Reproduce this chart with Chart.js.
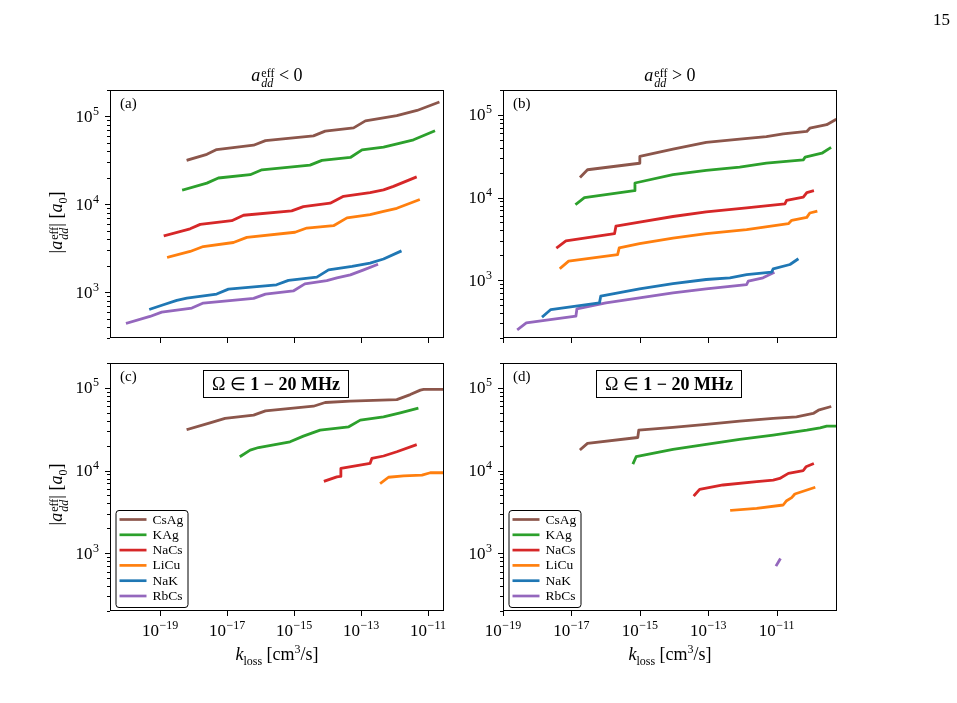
<!DOCTYPE html>
<html>
<head>
<meta charset="utf-8">
<script src="https://cdn.jsdelivr.net/npm/chart.js@4.4.0/dist/chart.umd.min.js"></script>
<style>
  html, body { margin: 0; padding: 0; background: #fff; }
  #page { position: relative; width: 957px; height: 703px; overflow: hidden; font-family: 'Liberation Serif', serif; color: #000; }
  canvas { position: absolute; left: 0; top: 0; }
  .txt { position: absolute; white-space: nowrap; font-size: 18px; line-height: 20px; text-align: center; }
  .ss { display: inline-flex; flex-direction: column; font-size: 12px; line-height: 10px; position: relative; top: -4px; margin-left: 1px; text-align: left; }
  .sub { font-size: 12px; position: relative; top: 5px; }
  .sup { font-size: 12px; position: relative; top: -7px; }
  .ylab { width: 140px; transform: rotate(-90deg); }
</style>
</head>
<body>
<div id="page">
  <canvas id="pa" width="957" height="703"></canvas>
  <canvas id="pb" width="957" height="703"></canvas>
  <canvas id="pc" width="957" height="703"></canvas>
  <canvas id="pd" width="957" height="703"></canvas>

  <div class="txt" style="right:7px; top:10px; font-size:17px;">15</div>

  <div class="txt" style="left:110px; width:334px; top:65px;"><i>a</i><span class="ss"><span>eff</span><i>dd</i></span> &lt; 0</div>
  <div class="txt" style="left:503px; width:334px; top:65px;"><i>a</i><span class="ss"><span>eff</span><i>dd</i></span> &gt; 0</div>

  <div class="txt ylab" style="left:-11px; top:209px;">|<i>a</i><span class="ss"><span>eff</span><i>dd</i></span>| [<i>a</i><span class="sub">0</span>]</div>
  <div class="txt ylab" style="left:-11px; top:481px;">|<i>a</i><span class="ss"><span>eff</span><i>dd</i></span>| [<i>a</i><span class="sub">0</span>]</div>

  <div class="txt" style="left:110px; width:334px; top:644px;"><i>k</i><span class="sub">loss</span> [cm<span class="sup">3</span>/s]</div>
  <div class="txt" style="left:503px; width:334px; top:644px;"><i>k</i><span class="sub">loss</span> [cm<span class="sup">3</span>/s]</div>
</div>
<script>
const W = 957, H = 703;
const species = ['CsAg', 'KAg', 'NaCs', 'LiCu', 'NaK', 'RbCs'];
const colors = ['#8c564b', '#2ca02c', '#d62728', '#ff7f0e', '#1f77b4', '#9467bd'];

// tick labels (powers of ten)
const xTickExp = [-19, -17, -15, -13, -11];
const yTickExp = [3, 4, 5];

// (a) a_dd^eff < 0   [k_loss (cm^3/s), |a_dd^eff| (a0)]
const csAgA = [[6.8e-19, 3.2e4], [2.5e-18, 3.7e4], [4.9e-18, 4.2e4], [6.2e-17, 4.7e4], [1.4e-16, 5.3e4], [3.8e-15, 6.0e4], [8.5e-15, 6.8e4], [6.0e-14, 7.4e4], [1.35e-13, 8.9e4], [1.17e-12, 1.02e5], [4.7e-12, 1.17e5], [2.0e-11, 1.44e5]];
const kAgA = [[5.0e-19, 1.46e4], [2.5e-18, 1.74e4], [5.5e-18, 1.99e4], [4.9e-17, 2.17e4], [1.1e-16, 2.47e4], [3.0e-15, 2.79e4], [6.8e-15, 3.16e4], [4.8e-14, 3.41e4], [1.07e-13, 4.17e4], [4.7e-13, 4.47e4], [1.48e-12, 4.97e4], [3.7e-12, 5.42e4], [1.48e-11, 6.76e4]];
const naCsA = [[1.41e-19, 4.4e3], [7.9e-19, 5.25e3], [1.58e-18, 5.9e3], [1.38e-17, 6.5e3], [3.1e-17, 7.5e3], [8.5e-16, 8.4e3], [1.9e-15, 9.4e3], [1.2e-14, 1.03e4], [3.0e-14, 1.23e4], [1.86e-13, 1.36e4], [4.7e-13, 1.46e4], [9.3e-13, 1.6e4], [4.2e-12, 2.02e4]];
const liCuA = [[1.78e-19, 2.5e3], [7.9e-19, 2.9e3], [1.95e-18, 3.3e3], [1.55e-17, 3.67e3], [3.9e-17, 4.2e3], [1.07e-15, 4.8e3], [2.4e-15, 5.36e3], [1.51e-14, 5.7e3], [3.8e-14, 7.0e3], [1.86e-13, 7.6e3], [4.7e-13, 8.3e3], [1.17e-12, 9.0e3], [5.2e-12, 1.12e4]];
const naKA = [[5.2e-20, 641], [1.26e-19, 718], [3.16e-19, 804], [6.3e-19, 855], [4.9e-18, 949], [1.1e-17, 1080], [3.0e-16, 1210], [6.8e-16, 1360], [4.8e-15, 1480], [1.07e-14, 1790], [5.4e-14, 1960], [1.86e-13, 2140], [4.7e-13, 2380], [1.48e-12, 2900]];
const rbCsA = [[1.05e-20, 444], [5.0e-20, 528], [1.12e-19, 592], [8.9e-19, 658], [1.95e-18, 750], [6.2e-17, 847], [1.4e-16, 949], [9.5e-16, 1030], [2.1e-15, 1240], [9.5e-15, 1350], [1.9e-14, 1450], [4.8e-14, 1570], [1.2e-13, 1790], [2.95e-13, 2050]];

// (b) a_dd^eff > 0
const csAgB = [[1.9e-17, 1.8e4], [2.95e-17, 2.17e4], [9.8e-16, 2.6e4], [1.0e-15, 3.14e4], [9.3e-15, 3.85e4], [8.7e-14, 4.64e4], [8.3e-13, 5.08e4], [5.0e-12, 5.47e4], [1.55e-11, 5.9e4], [7.6e-11, 6.3e4], [9.3e-11, 6.9e4], [2.9e-10, 7.6e4], [5.1e-10, 8.7e4]];
const kAgB = [[1.41e-17, 8.4e3], [2.4e-17, 1.0e4], [6.9e-16, 1.21e4], [7.2e-16, 1.5e4], [9.3e-15, 1.89e4], [8.7e-14, 2.13e4], [8.3e-13, 2.33e4], [5.0e-12, 2.61e4], [6.0e-11, 2.86e4], [6.8e-11, 3.08e4], [2.1e-10, 3.44e4], [3.6e-10, 3.96e4]];
const naCsB = [[3.9e-18, 2.5e3], [6.9e-18, 3.0e3], [1.82e-16, 3.66e3], [2.0e-16, 4.5e3], [9.8e-16, 5.06e3], [9.3e-15, 5.9e3], [8.7e-14, 6.7e3], [1.32e-12, 7.5e3], [1.74e-11, 8.4e3], [1.95e-11, 9.25e3], [6.0e-11, 1.01e4], [7.6e-11, 1.15e4], [1.12e-10, 1.2e4]];
const liCuB = [[4.9e-18, 1.41e3], [8.3e-18, 1.7e3], [2.24e-16, 2.04e3], [2.5e-16, 2.46e3], [9.8e-16, 2.77e3], [9.3e-15, 3.24e3], [8.7e-14, 3.66e3], [1.32e-12, 4.09e3], [2.2e-11, 4.83e3], [2.75e-11, 5.3e3], [7.6e-11, 5.76e3], [9.3e-11, 6.5e3], [1.41e-10, 6.8e3]];
const naKB = [[1.48e-18, 367], [2.5e-18, 442], [6.6e-17, 532], [7.2e-17, 641], [9.8e-16, 785], [9.3e-15, 912], [8.7e-14, 1020], [4.3e-13, 1070], [1.32e-12, 1170], [7.1e-12, 1250], [7.9e-12, 1370], [2.45e-11, 1550], [4.0e-11, 1780]];
const rbCsB = [[2.8e-19, 257], [4.8e-19, 305], [1.35e-17, 367], [1.45e-17, 451], [1.02e-16, 532], [9.8e-16, 612], [9.3e-15, 703], [8.7e-14, 785], [1.32e-12, 887], [1.48e-12, 973], [4.0e-12, 1070], [7.9e-12, 1230]];

// (c) a_dd^eff < 0, Omega in 1-20 MHz
const csAgC = [[6.8e-19, 3.16e4], [3.1e-18, 3.78e4], [8.7e-18, 4.27e4], [6.2e-17, 4.68e4], [1.4e-16, 5.27e4], [3.8e-15, 6.0e4], [8.5e-15, 6.66e4], [4.8e-14, 6.9e4], [1.17e-12, 7.2e4], [2.95e-12, 8.3e4], [5.9e-12, 9.4e4], [7.4e-12, 9.6e4], [4.0e-11, 9.6e4]];
const kAgC = [[2.6e-17, 1.5e4], [4.9e-17, 1.77e4], [8.7e-17, 1.9e4], [7.6e-16, 2.23e4], [1.9e-15, 2.61e4], [6.0e-15, 3.08e4], [4.3e-14, 3.38e4], [9.5e-14, 4.07e4], [4.7e-13, 4.47e4], [1.48e-12, 4.99e4], [4.7e-12, 5.62e4]];
const naCsC = [[8.5e-15, 7.5e3], [1.9e-14, 8.4e3], [2.4e-14, 8.5e3], [2.5e-14, 1.06e4], [1.86e-13, 1.22e4], [2.1e-13, 1.4e4], [4.7e-13, 1.5e4], [1.17e-12, 1.69e4], [4.2e-12, 2.03e4]];
const liCuC = [[4.0e-13, 7.1e3], [6.6e-13, 8.3e3], [1.86e-12, 8.6e3], [6.6e-12, 8.8e3], [1.17e-11, 9.4e3], [4.0e-11, 9.4e3]];
const naKC = [];
const rbCsC = [];

// (d) a_dd^eff > 0, Omega in 1-20 MHz
const csAgD = [[1.9e-17, 1.82e4], [2.95e-17, 2.13e4], [8.7e-16, 2.51e4], [9.3e-16, 3.08e4], [9.3e-15, 3.32e4], [8.7e-14, 3.61e4], [8.3e-13, 3.96e4], [7.9e-12, 4.27e4], [3.8e-11, 4.47e4], [1.17e-10, 4.9e4], [1.66e-10, 5.37e4], [3.6e-10, 5.89e4]];
const kAgD = [[6.5e-16, 1.24e4], [7.8e-16, 1.47e4], [9.3e-15, 1.8e4], [8.7e-14, 2.07e4], [2.7e-13, 2.23e4], [8.3e-13, 2.38e4], [7.9e-12, 2.68e4], [7.6e-11, 3.08e4], [1.86e-10, 3.29e4], [2.9e-10, 3.44e4], [1.0e-9, 3.46e4]];
const naCsD = [[4.0e-14, 5.06e3], [5.6e-14, 5.93e3], [2.7e-13, 6.69e3], [2.6e-12, 7.33e3], [7.9e-12, 7.67e3], [1.23e-11, 8.03e3], [2.2e-11, 9.25e3], [6.0e-11, 1.0e4], [7.2e-11, 1.11e4], [1.12e-10, 1.2e4]];
const liCuD = [[4.8e-13, 3.3e3], [2.6e-12, 3.49e3], [1.55e-11, 3.83e3], [1.95e-11, 4.32e3], [2.75e-11, 4.7e3], [3.4e-11, 5.2e3], [1.23e-10, 6.2e3]];
const naKD = [];
const rbCsD = [[1.0e-11, 722], [1.23e-11, 833]];

const SERIF = '"Liberation Serif", serif';

function powLabel(ctx, exp, x, y, mode) {
  const b = '10', s = (exp < 0 ? '\u2212' : '') + Math.abs(exp);
  ctx.font = '17px ' + SERIF;
  const wb = ctx.measureText(b).width;
  ctx.font = '12px ' + SERIF;
  const ws = ctx.measureText(s).width;
  const w = wb + 0.5 + ws;
  const left = mode === 'x' ? x - w / 2 : x - w;
  const base = mode === 'x' ? y : y + 5.5;
  ctx.textAlign = 'left';
  ctx.textBaseline = 'alphabetic';
  ctx.font = '17px ' + SERIF;
  ctx.fillText(b, left, base);
  ctx.font = '12px ' + SERIF;
  ctx.fillText(s, left + wb + 0.5, base - 7);
}

const framePlugin = {
  id: 'frame',
  afterDatasetsDraw(chart, args, o) {
    const { ctx, chartArea: a, scales: { x, y } } = chart;
    ctx.save();
    ctx.fillStyle = '#000';
    ctx.strokeStyle = '#000';
    ctx.lineWidth = 1;
    ctx.strokeRect(Math.round(a.left) + 0.5, Math.round(a.top) + 0.5, Math.round(a.right - a.left) - 1, Math.round(a.bottom - a.top) - 1);

    // x ticks (every two decades)
    ctx.beginPath();
    xTickExp.forEach(e => {
      const px = Math.round(x.getPixelForValue(Math.pow(10, e))) + 0.5;
      ctx.moveTo(px, a.bottom);
      ctx.lineTo(px, a.bottom + 5);
    });
    // y ticks, major and minor
    const lo = Math.floor(Math.log10(y.min)), hi = Math.ceil(Math.log10(y.max));
    for (let n = lo; n <= hi; n++) {
      for (let m = 1; m <= 9; m++) {
        const v = m * Math.pow(10, n);
        if (v < y.min * 0.999 || v > y.max * 1.001) continue;
        const py = Math.round(y.getPixelForValue(v)) + 0.5;
        ctx.moveTo(a.left, py);
        ctx.lineTo(a.left - (m === 1 ? 5 : 3), py);
      }
    }
    ctx.stroke();

    yTickExp.forEach(e => powLabel(ctx, e, a.left - 11, y.getPixelForValue(Math.pow(10, e)), 'y'));
    if (o.xLabels) xTickExp.forEach(e => powLabel(ctx, e, x.getPixelForValue(Math.pow(10, e)), a.bottom + 24.5, 'x'));

    // panel letter
    ctx.font = '15px ' + SERIF;
    ctx.textAlign = 'left';
    ctx.textBaseline = 'middle';
    ctx.fillText(o.letter, a.left + 10, a.top + 14);

    if (o.omega) {
      const bx = a.left + 93.5, by = a.top + 7.5, bw = 145, bh = 27;
      ctx.fillStyle = '#fff';
      ctx.fillRect(bx, by, bw, bh);
      ctx.strokeRect(bx, by, bw, bh);
      ctx.fillStyle = '#000';
      const t1 = '\u03A9 \u2208 ', t2 = '1 \u2212 20 MHz';
      ctx.font = '18px ' + SERIF;
      const w1 = ctx.measureText(t1).width;
      ctx.font = 'bold 18px ' + SERIF;
      const w2 = ctx.measureText(t2).width;
      const sx = bx + (bw - w1 - w2) / 2, base = by + bh / 2 + 6;
      ctx.textBaseline = 'alphabetic';
      ctx.font = '18px ' + SERIF;
      ctx.fillText(t1, sx, base);
      ctx.font = 'bold 18px ' + SERIF;
      ctx.fillText(t2, sx + w1, base);
    }

    if (o.legend) {
      const lx = a.left + 5.5, ly = a.bottom - 101, lw = 72, lh = 97, r = 3;
      ctx.beginPath();
      ctx.roundRect(lx + 0.5, ly + 0.5, lw, lh, r);
      ctx.fillStyle = '#fff';
      ctx.fill();
      ctx.stroke();
      ctx.font = '13.5px ' + SERIF;
      ctx.textBaseline = 'middle';
      chart.data.datasets.forEach((ds, i) => {
        const cy = ly + 9.5 + i * 15.3;
        ctx.strokeStyle = ds.borderColor;
        ctx.lineWidth = 2.7;
        ctx.beginPath();
        ctx.moveTo(lx + 4, cy);
        ctx.lineTo(lx + 31, cy);
        ctx.stroke();
        ctx.fillStyle = '#000';
        ctx.fillText(ds.label, lx + 37, cy + 0.5);
      });
    }
    ctx.restore();
  }
};

function makePanel(id, area, xr, yr, series, o) {
  new Chart(document.getElementById(id), {
    type: 'line',
    data: {
      datasets: series.map((d, i) => ({
        label: species[i],
        data: d,
        borderColor: colors[i],
        backgroundColor: colors[i],
        borderWidth: 2.8,
        pointRadius: 0,
        tension: 0,
        fill: false,
        borderCapStyle: 'square',
        borderJoinStyle: 'round'
      }))
    },
    options: {
      responsive: false,
      animation: false,
      events: [],
      layout: { padding: { left: area[0], top: area[1], right: W - area[2], bottom: H - area[3] } },
      scales: {
        x: { type: 'logarithmic', display: false, min: xr[0], max: xr[1] },
        y: { type: 'logarithmic', display: false, min: yr[0], max: yr[1] }
      },
      plugins: { legend: { display: false }, tooltip: { enabled: false }, frame: o }
    },
    plugins: [framePlugin]
  });
}

const leftX = [3.2e-21, 3.0e-11];
const rightX = [1e-19, 5.8e-10];

makePanel('pa', [110, 90, 444, 338], leftX, [300, 2.0e5], [csAgA, kAgA, naCsA, liCuA, naKA, rbCsA], { letter: '(a)' });
makePanel('pb', [503, 90, 837, 338], rightX, [200, 2.0e5], [csAgB, kAgB, naCsB, liCuB, naKB, rbCsB], { letter: '(b)' });
makePanel('pc', [110, 363, 444, 611], leftX, [200, 2.0e5], [csAgC, kAgC, naCsC, liCuC, naKC, rbCsC], { letter: '(c)', xLabels: true, omega: true, legend: true });
makePanel('pd', [503, 363, 837, 611], rightX, [200, 2.0e5], [csAgD, kAgD, naCsD, liCuD, naKD, rbCsD], { letter: '(d)', xLabels: true, omega: true, legend: true });
</script>
</body>
</html>
